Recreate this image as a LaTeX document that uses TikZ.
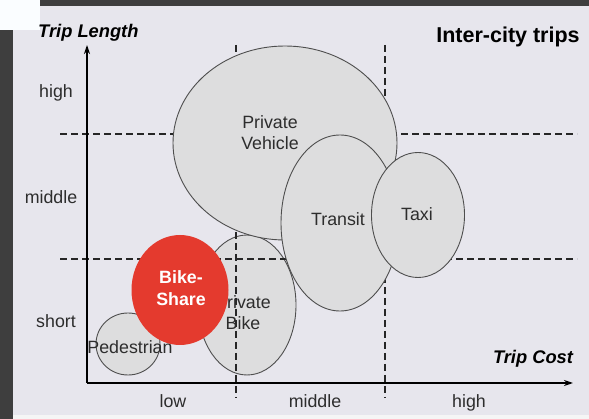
\documentclass[tikz,border=0pt]{standalone}
\usepackage{fontspec}
\setmainfont{Liberation Sans}
\usetikzlibrary{shapes.geometric,arrows.meta}

\definecolor{frame}{RGB}{62,62,62}
\definecolor{panel}{RGB}{231,230,237}
\definecolor{bubble}{RGB}{221,221,222}
\definecolor{edge}{RGB}{78,78,78}
\definecolor{bikered}{RGB}{228,58,46}
\definecolor{txt}{RGB}{45,45,45}

\begin{document}
\begin{tikzpicture}[x=1pt,y=-1pt,
	tripmode/.style={ellipse, draw=edge, fill=bubble, line width=0.9pt, inner sep=0pt},
	splitline/.style={draw=black!85, dash pattern=on 7pt off 4pt, line width=1.1pt},
	lbl/.style={font=\fontsize{17.8}{21}\selectfont, text=txt, align=center, inner sep=0pt},
	axistitle/.style={font=\fontsize{18.3}{21}\selectfont\bfseries\itshape, inner sep=0pt}]
	\useasboundingbox (0,0) rectangle (589,419);
	
	% slide background
	\fill[frame] (0,0) rectangle (589,419);
	\fill[panel] (13,6) rectangle (589,415);
	\fill[black!4] (13,415) rectangle (589,419);
	\fill[cyan!2] (0,0) rectangle (40,30);
	
	% grid ends
	\coordinate (o) at (87,383);
	\coordinate (ytop) at (87,45);
	\coordinate (xend) at (573,383);
	\coordinate (v1t) at (236,45);
	\coordinate (v1b) at (236,398);
	\coordinate (v2t) at (385,45);
	\coordinate (v2b) at (385,398);
	\coordinate (h1l) at (60,134);
	\coordinate (h1r) at (577,134);
	\coordinate (h2l) at (60,259);
	\coordinate (h2r) at (577,259);
	
	\node[tripmode, minimum width=98pt, minimum height=140pt] (pbike) at (247,305) {};
	
	\draw[splitline] (v1t) -- (v1b);
	\draw[splitline] (v2t) -- (v2b);
	\draw[splitline] (h1l) -- (h1r);
	\draw[splitline] (h2l) -- (h2r);
	
	\node[tripmode, minimum width=224pt, minimum height=194pt] (car) at (285,143) {};
	\node[tripmode, minimum width=118pt, minimum height=176pt] (transit) at (340,223) {};
	\node[tripmode, minimum width=93pt, minimum height=125pt] (taxi) at (418,215) {};
	\node[tripmode, minimum width=64pt, minimum height=62pt] (walk) at (128,344) {};
	
	% axes
	\draw[line width=1.4pt, -{Stealth[length=9pt,width=6pt]}] (o) -- (ytop);
	\draw[line width=1.4pt, -{Stealth[length=9pt,width=6pt]}] (o) -- (xend);
	
	\node[lbl] (cartxt) at (270,133) {Private\\Vehicle};
	\node[lbl] (transittxt) at (338,219) {Transit};
	\node[lbl] (taxitxt) at (417,214) {Taxi};
	\node[lbl] (pbiketxt) at (243,313) {Private\\Bike};
	\node[lbl] (walktxt) at (130,347) {Pedestrian};
	
	\node[ellipse, fill=bikered, inner sep=0pt, minimum width=97pt, minimum height=110pt] (share) at (180,290) {};
	\node[lbl, text=white, font=\fontsize{17.8}{22}\selectfont\bfseries] (sharetxt) at (181,288) {Bike-\\Share};
	
	% axis labels
	\node[axistitle, anchor=base west] (ylbl) at (38,38) {Trip Length};
	\node[axistitle, anchor=base] (xlbl) at (533,364) {Trip Cost};
	\node[font=\fontsize{21.5}{22}\selectfont\bfseries, anchor=base, inner sep=0pt] (title) at (508,43) {Inter-city trips};
	
	\node[lbl, anchor=base] (yhigh) at (56,98) {high};
	\node[lbl, anchor=base] (ymid) at (51,204) {middle};
	\node[lbl, anchor=base] (yshort) at (56,328) {short};
	\node[lbl, anchor=base] (xlow) at (173,408) {low};
	\node[lbl, anchor=base] (xmid) at (315,408) {middle};
	\node[lbl, anchor=base] (xhigh) at (469,408) {high};
	
\end{tikzpicture}
\end{document}
